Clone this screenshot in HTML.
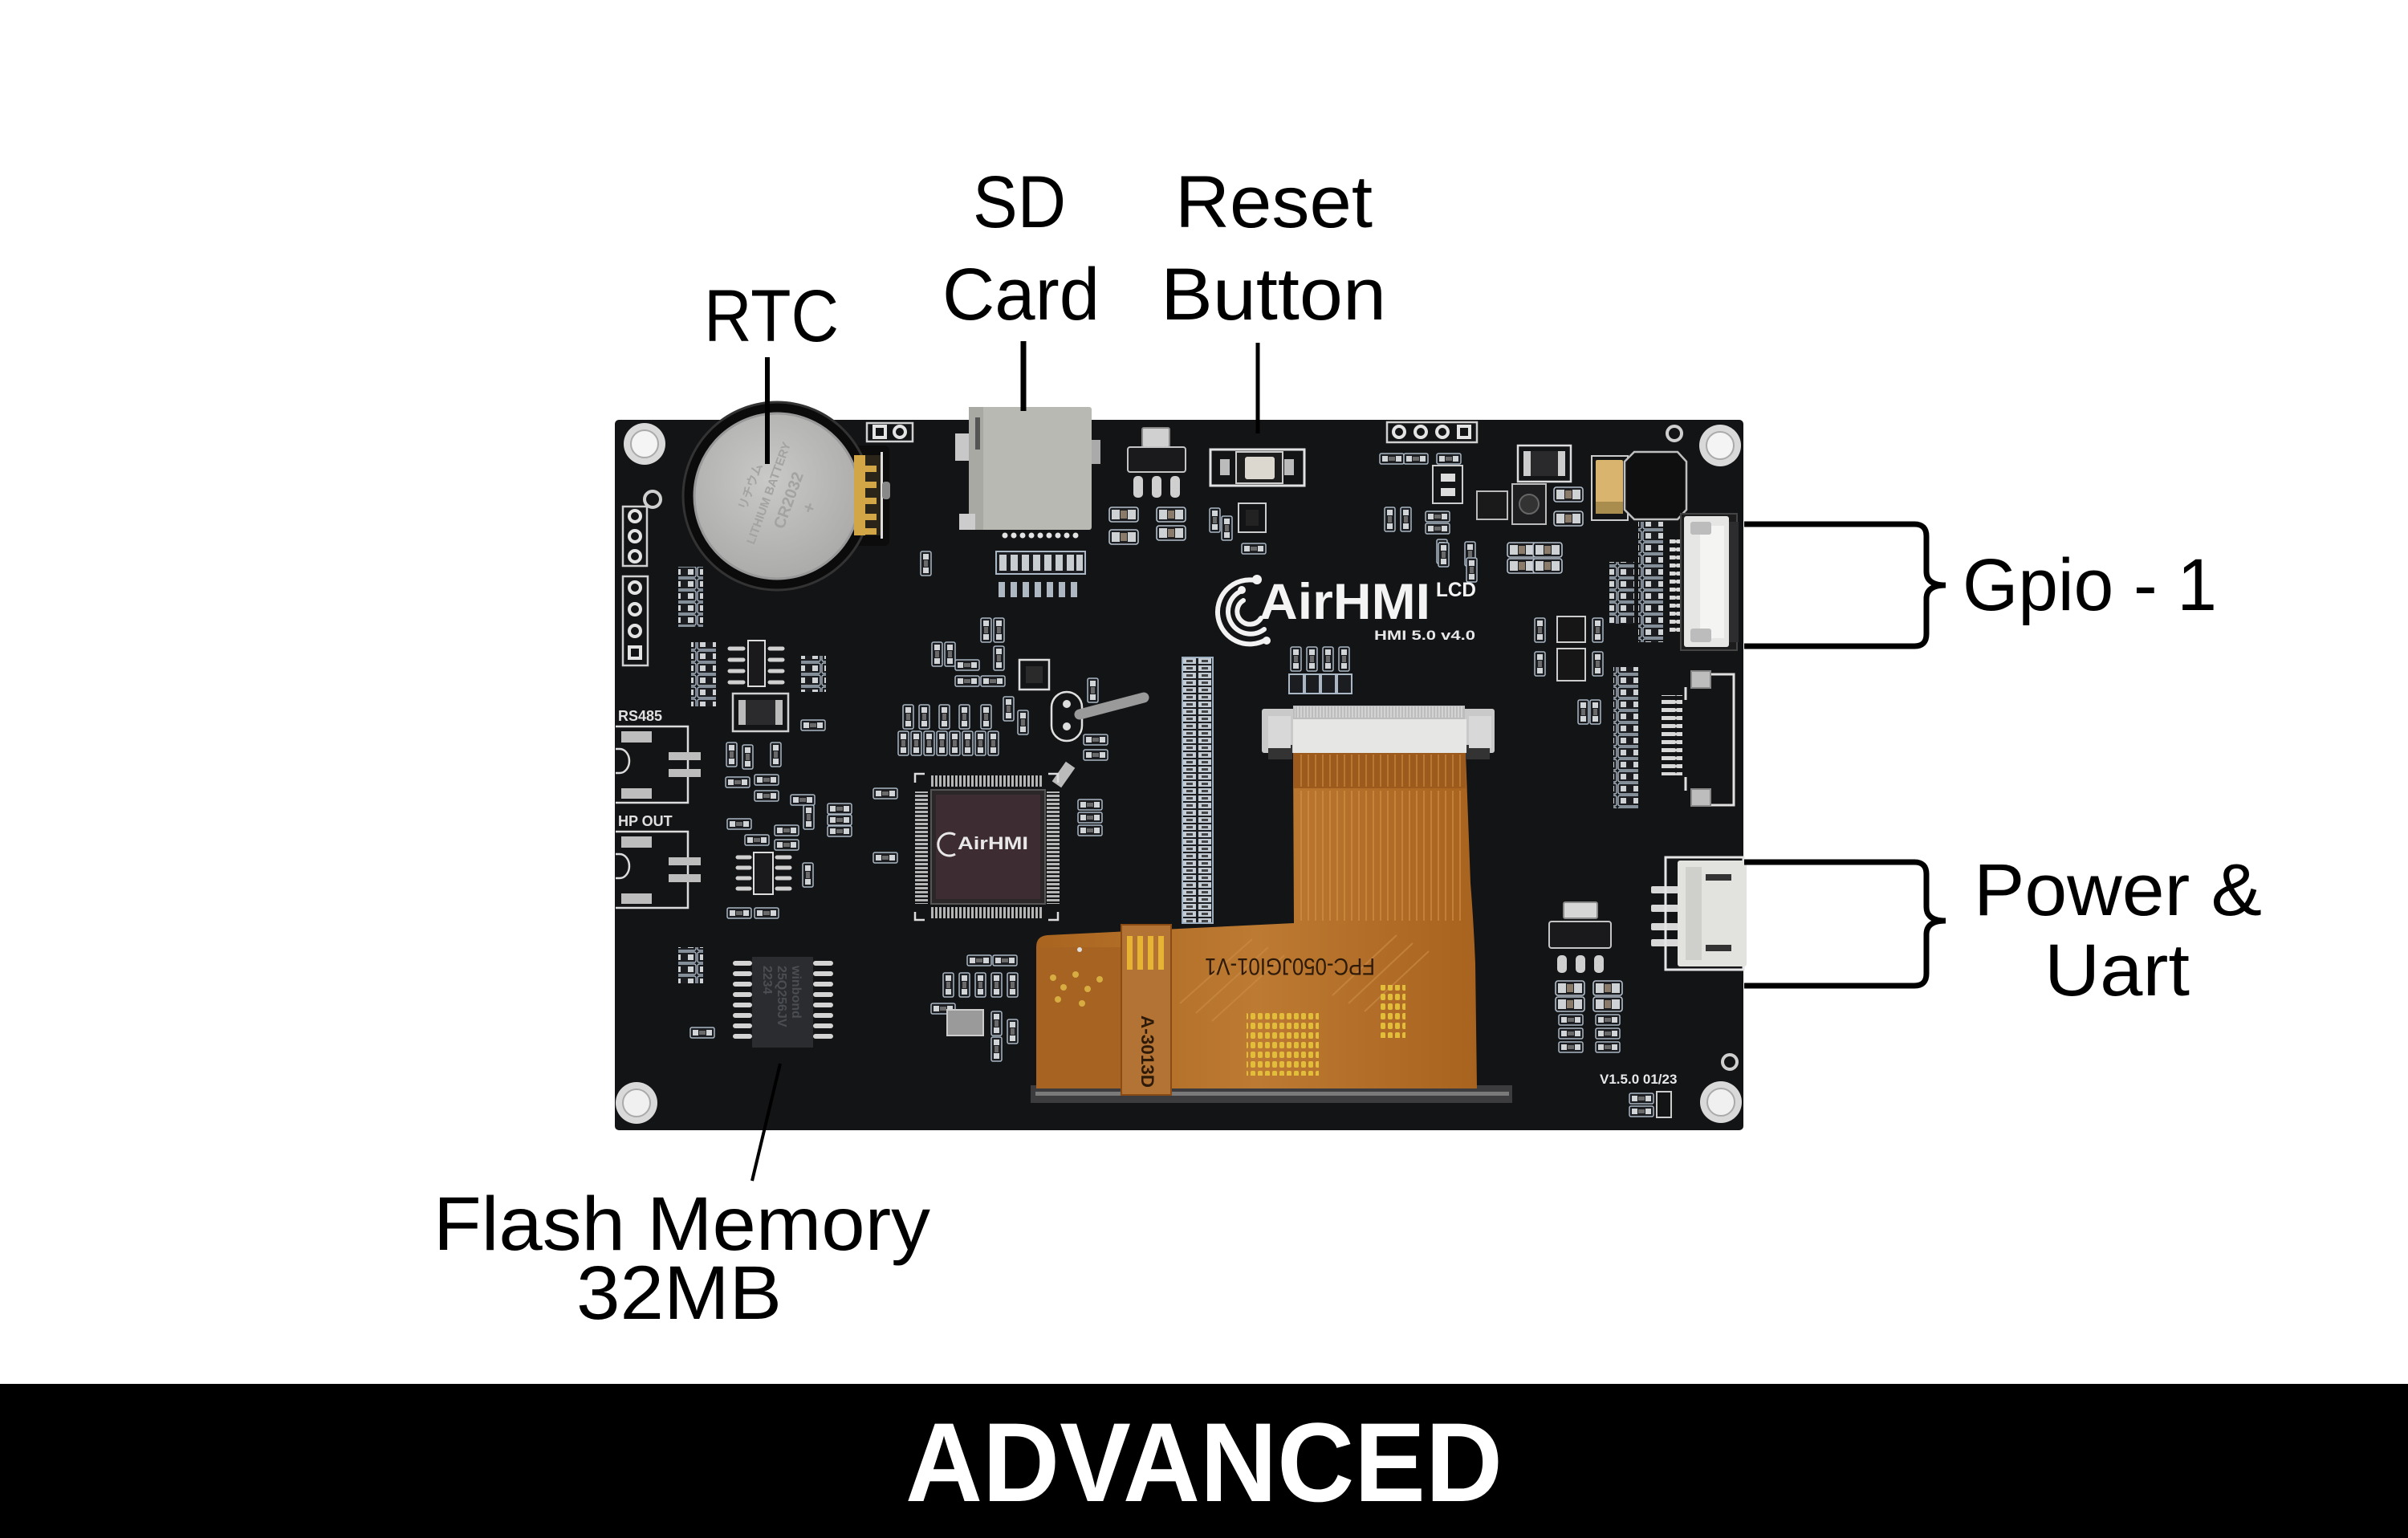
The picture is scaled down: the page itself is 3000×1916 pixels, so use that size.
<!DOCTYPE html>
<html><head><meta charset="utf-8"><style>
html,body{margin:0;padding:0;background:#fff;}
svg{display:block;}
</style></head><body>
<svg width="3000" height="1916" viewBox="0 0 3000 1916" xmlns="http://www.w3.org/2000/svg" font-family="'Liberation Sans', Arial, sans-serif">
<defs>
 <g id="rr"><rect x="0" y="0" width="30" height="13" rx="2" fill="#1c1d20" stroke="#aab7c4" stroke-width="1.5"/><rect x="3" y="3" width="7" height="7" fill="#d2d5d8"/><rect x="20" y="3" width="7" height="7" fill="#d2d5d8"/><rect x="11" y="4" width="8" height="5" fill="#6a6a6a"/></g>
 <g id="rv"><rect width="13" height="30" rx="2" fill="#1c1d20" stroke="#aab7c4" stroke-width="1.5"/><rect x="3" y="3" width="7" height="7" fill="#d2d5d8"/><rect x="3" y="20" width="7" height="7" fill="#d2d5d8"/><rect x="4" y="11" width="5" height="8" fill="#6a6a6a"/></g>
 <g id="cp"><rect width="36" height="18" rx="3" fill="#1c1d20" stroke="#b4c0cc" stroke-width="1.6"/><rect x="3" y="3" width="10" height="12" fill="#cfd2d4"/><rect x="23" y="3" width="10" height="12" fill="#cfd2d4"/><rect x="14" y="4" width="8" height="10" fill="#8a7a6a"/></g>
 <pattern id="rah" width="31" height="15" patternUnits="userSpaceOnUse"><rect x="1" y="1" width="29" height="13" rx="2" fill="#1c1d20" stroke="#aab7c4" stroke-width="1.4"/><rect x="4" y="4" width="7" height="7" fill="#d0d3d6"/><rect x="20" y="4" width="7" height="7" fill="#d0d3d6"/></pattern>
 <pattern id="pinv" width="5" height="20" patternUnits="userSpaceOnUse"><rect width="3" height="20" fill="#b5b5b5"/></pattern>
 <pattern id="pinh" width="20" height="5" patternUnits="userSpaceOnUse"><rect width="20" height="3" fill="#b5b5b5"/></pattern>
 <pattern id="strip" x="1473" y="819" width="38" height="9" patternUnits="userSpaceOnUse"><rect x="1" y="1" width="16" height="7" fill="#c3ccd4"/><rect x="20" y="1" width="16" height="7" fill="#c3ccd4"/><rect x="5" y="3" width="8" height="3" fill="#444"/><rect x="24" y="3" width="8" height="3" fill="#444"/></pattern>
 <pattern id="trace" width="9" height="40" patternUnits="userSpaceOnUse"><rect width="2" height="40" fill="#d69448"/></pattern>
 <pattern id="fine" width="4" height="10" patternUnits="userSpaceOnUse"><rect width="2" height="10" fill="#d8d8d8"/></pattern>
 <pattern id="gold" width="9" height="12" patternUnits="userSpaceOnUse"><rect x="1" y="2" width="6" height="8" rx="2" fill="#e2bd3a"/></pattern>
 <pattern id="pinl" width="24" height="10" patternUnits="userSpaceOnUse"><rect x="0" y="2" width="24" height="5" rx="2" fill="#d8d8d8"/></pattern>
 <radialGradient id="coin" cx="0.45" cy="0.4" r="0.65"><stop offset="0" stop-color="#c9c9c7"/><stop offset="1" stop-color="#a9a9a7"/></radialGradient>
 <linearGradient id="flex" x1="0" y1="0" x2="1" y2="0"><stop offset="0" stop-color="#a9651f"/><stop offset="0.5" stop-color="#bd7a32"/><stop offset="1" stop-color="#a8631f"/></linearGradient>
</defs>

<rect width="3000" height="1916" fill="#fff"/>

<!-- board -->
<rect x="766" y="523" width="1406" height="885" rx="5" fill="#131416"/>

<!-- mounting holes -->
<g>
 <circle cx="803" cy="553" r="26" fill="#d9d9d9"/><circle cx="803" cy="553" r="17" fill="#f4f4f4" stroke="#aaa" stroke-width="2"/>
 <circle cx="2143" cy="555" r="26" fill="#d9d9d9"/><circle cx="2143" cy="555" r="17" fill="#f4f4f4" stroke="#aaa" stroke-width="2"/>
 <circle cx="793" cy="1374" r="26" fill="#d9d9d9"/><circle cx="793" cy="1374" r="17" fill="#f0f0f0" stroke="#aaa" stroke-width="2"/>
 <circle cx="2144" cy="1373" r="26" fill="#d9d9d9"/><circle cx="2144" cy="1373" r="17" fill="#f0f0f0" stroke="#aaa" stroke-width="2"/>
 <circle cx="813" cy="622" r="10" fill="none" stroke="#cfcfcf" stroke-width="4"/>
 <circle cx="2086" cy="540" r="9" fill="none" stroke="#cfcfcf" stroke-width="4"/>
 <circle cx="2155" cy="1323" r="9" fill="none" stroke="#cfcfcf" stroke-width="4"/>
</g>

<!-- headers -->
<g fill="none" stroke="#d0d0d0" stroke-width="2.5">
 <rect x="776" y="631" width="30" height="74"/>
 <rect x="776" y="718" width="31" height="111"/>
 <rect x="1728" y="526" width="112" height="25"/>
 <rect x="1080" y="527" width="57" height="23"/>
</g>
<g fill="#131416" stroke="#e4e4e4" stroke-width="4">
 <circle cx="791" cy="643" r="7"/><circle cx="791" cy="668" r="7"/><circle cx="791" cy="693" r="7"/>
 <circle cx="791" cy="732" r="7"/><circle cx="791" cy="759" r="7"/><circle cx="791" cy="786" r="7"/><rect x="784" y="806" width="14" height="14"/>
 <circle cx="1743" cy="538" r="7"/><circle cx="1770" cy="538" r="7"/><circle cx="1797" cy="538" r="7"/><rect x="1817" y="531" width="14" height="14"/>
 <rect x="1089" y="531" width="14" height="14"/><circle cx="1121" cy="538" r="7"/>
</g>

<!-- coin cell -->
<rect x="1040" y="555" width="68" height="125" rx="6" fill="#0c0c0d"/>
<circle cx="968" cy="618" r="117" fill="#0b0b0c" stroke="#333" stroke-width="3"/>
<circle cx="968" cy="618" r="103" fill="url(#coin)" stroke="#999" stroke-width="3"/>
<g transform="rotate(-70 968 618)" fill="#a3a3a1" font-size="15" font-weight="bold" text-anchor="middle">
 <text x="968" y="588">リチウム</text>
 <text x="968" y="612">LITHIUM BATTERY</text>
 <text x="968" y="640" font-size="20">CR2032</text>
 <text x="968" y="668" font-size="22">+</text>
</g>
<rect x="1064" y="567" width="34" height="100" fill="#2a2419"/>
<g fill="#d2a647"><rect x="1064" y="567" width="14" height="100"/><rect x="1078" y="580" width="14" height="8"/><rect x="1078" y="600" width="14" height="8"/><rect x="1078" y="620" width="14" height="8"/><rect x="1078" y="640" width="14" height="8"/><rect x="1078" y="658" width="14" height="8"/></g>
<rect x="1097" y="563" width="3" height="108" fill="#ddd"/>
<rect x="1099" y="600" width="10" height="22" rx="4" fill="#888"/>

<!-- SD card slot -->
<rect x="1190" y="540" width="22" height="34" fill="#c8c8c8"/>
<rect x="1355" y="548" width="16" height="30" fill="#aaa"/>
<rect x="1207" y="507" width="153" height="153" rx="3" fill="#b9b9b4"/>
<rect x="1207" y="507" width="18" height="153" fill="#a9a9a4"/>
<rect x="1215" y="520" width="6" height="40" fill="#555"/>
<rect x="1195" y="640" width="20" height="20" fill="#ccc"/>
<g fill="#e3e3e3"><circle cx="1252" cy="667" r="3.5"/><circle cx="1263" cy="667" r="3.5"/><circle cx="1274" cy="667" r="3.5"/><circle cx="1285" cy="667" r="3.5"/><circle cx="1296" cy="667" r="3.5"/><circle cx="1307" cy="667" r="3.5"/><circle cx="1318" cy="667" r="3.5"/><circle cx="1329" cy="667" r="3.5"/><circle cx="1340" cy="667" r="3.5"/></g>
<rect x="1241" y="687" width="111" height="28" fill="#1c1d20" stroke="#aab7c4" stroke-width="2"/>
<g fill="#c8cdd2"><rect x="1245" y="691" width="9" height="20"/><rect x="1259" y="691" width="9" height="20"/><rect x="1273" y="691" width="9" height="20"/><rect x="1287" y="691" width="9" height="20"/><rect x="1301" y="691" width="9" height="20"/><rect x="1315" y="691" width="9" height="20"/><rect x="1329" y="691" width="9" height="20"/><rect x="1341" y="691" width="8" height="20"/></g>
<g fill="#aeb8c2"><rect x="1244" y="725" width="8" height="19"/><rect x="1259" y="725" width="8" height="19"/><rect x="1274" y="725" width="8" height="19"/><rect x="1289" y="725" width="8" height="19"/><rect x="1304" y="725" width="8" height="19"/><rect x="1319" y="725" width="8" height="19"/><rect x="1334" y="725" width="8" height="19"/></g>
<use href="#rv" x="1147" y="687"/>

<!-- top center parts -->
<rect x="1423" y="533" width="34" height="24" rx="2" fill="#d0d0d0" stroke="#888" stroke-width="2"/>
<rect x="1405" y="557" width="72" height="31" rx="3" fill="#1a1a1c" stroke="#c4c4c4" stroke-width="2"/>
<g fill="#cfcfcf"><rect x="1412" y="593" width="12" height="27" rx="5"/><rect x="1435" y="593" width="12" height="27" rx="5"/><rect x="1458" y="593" width="12" height="27" rx="5"/></g>
<use href="#cp" x="1382" y="632"/><use href="#cp" x="1382" y="660"/><use href="#cp" x="1441" y="632"/><use href="#cp" x="1441" y="655"/>
<use href="#rv" x="1507" y="633"/><use href="#rv" x="1522" y="643"/>
<rect x="1543" y="627" width="34" height="36" fill="none" stroke="#ccc" stroke-width="2"/><rect x="1552" y="635" width="16" height="20" fill="#222"/>
<use href="#rr" x="1547" y="677"/>

<!-- reset button -->
<rect x="1508" y="560" width="117" height="45" fill="none" stroke="#e2e2e2" stroke-width="3"/>
<rect x="1520" y="572" width="12" height="20" fill="#bbb"/><rect x="1600" y="572" width="12" height="20" fill="#bbb"/>
<rect x="1540" y="563" width="58" height="39" fill="#1d1d1d" stroke="#ccc" stroke-width="2"/>
<rect x="1551" y="569" width="37" height="28" rx="3" fill="#ddd8cf"/>

<!-- top right parts -->
<use href="#rr" x="1719" y="565"/><use href="#rr" x="1749" y="565"/><use href="#rr" x="1790" y="565"/>
<rect x="1785" y="580" width="37" height="47" fill="none" stroke="#ccc" stroke-width="2"/><rect x="1795" y="590" width="18" height="10" fill="#ddd"/><rect x="1795" y="608" width="18" height="10" fill="#ddd"/>
<use href="#rv" x="1725" y="632"/><use href="#rv" x="1745" y="632"/>
<use href="#rr" x="1776" y="637"/><use href="#rr" x="1776" y="652"/>
<use href="#rv" x="1790" y="672"/><use href="#rv" x="1825" y="675"/>
<rect x="1840" y="612" width="38" height="35" fill="#1a1a1a" stroke="#bbb" stroke-width="2"/>
<rect x="1891" y="555" width="66" height="45" fill="none" stroke="#ddd" stroke-width="2.5"/>
<rect x="1898" y="562" width="52" height="31" fill="#2a2a2c"/><rect x="1898" y="562" width="9" height="31" fill="#ccc"/><rect x="1941" y="562" width="9" height="31" fill="#ccc"/>
<rect x="1884" y="603" width="42" height="50" fill="#1e1e20" stroke="#bbb" stroke-width="2"/><circle cx="1905" cy="628" r="12" fill="#333" stroke="#666" stroke-width="2"/>
<use href="#cp" x="1936" y="607"/><use href="#cp" x="1936" y="637"/>
<rect x="1983" y="568" width="45" height="80" fill="none" stroke="#ccc" stroke-width="2"/>
<rect x="1988" y="573" width="34" height="67" rx="2" fill="#d8b46e"/><rect x="1988" y="625" width="34" height="15" fill="#a98d4e"/>
<path d="M2036 563 H2090 L2101 575 V635 L2090 647 H2036 L2024 635 V575 Z" fill="#0f0f10" stroke="#bfbfbf" stroke-width="2.5"/>
<use href="#cp" x="1878" y="676"/><use href="#cp" x="1910" y="676"/><use href="#cp" x="1878" y="696"/><use href="#cp" x="1910" y="696"/>
<use href="#rv" x="1792" y="676"/><use href="#rv" x="1827" y="695"/>

<!-- right resistor arrays -->
<rect x="2005" y="700" width="31" height="77" fill="url(#rah)"/>
<rect x="2041" y="650" width="31" height="150" fill="url(#rah)"/>
<rect x="2010" y="831" width="31" height="176" fill="url(#rah)"/>
<rect x="1940" y="768" width="35" height="32" fill="#161616" stroke="#ccc" stroke-width="2"/>
<rect x="1940" y="808" width="35" height="40" fill="#161616" stroke="#ccc" stroke-width="2"/>
<use href="#rv" x="1912" y="770"/><use href="#rv" x="1912" y="812"/><use href="#rv" x="1984" y="770"/><use href="#rv" x="1984" y="812"/>
<use href="#rv" x="1966" y="872"/><use href="#rv" x="1981" y="872"/>

<!-- GPIO 1 connector -->
<rect x="2080" y="670" width="22" height="120" fill="url(#pinl)"/>
<rect x="2094" y="640" width="70" height="170" fill="#1c1c1c" stroke="#444" stroke-width="2"/>
<rect x="2098" y="643" width="56" height="163" rx="3" fill="#e6e6e4"/>
<rect x="2118" y="655" width="30" height="140" fill="#f4f4f2"/>
<rect x="2106" y="650" width="26" height="16" rx="3" fill="#bcbcbc"/>
<rect x="2106" y="783" width="26" height="17" rx="3" fill="#bcbcbc"/>
<rect x="2154" y="650" width="12" height="150" fill="#2d2d30"/>

<!-- GPIO2 -->
<path d="M2112 840 H2160 V1003 H2112 M2100 856 V872 M2100 968 V985" fill="none" stroke="#e0e0e0" stroke-width="3"/>
<rect x="2070" y="866" width="26" height="100" fill="url(#pinl)"/>
<rect x="2107" y="836" width="24" height="21" fill="#bdbdbd" stroke="#888" stroke-width="2"/>
<rect x="2107" y="983" width="24" height="21" fill="#bdbdbd" stroke="#888" stroke-width="2"/>

<!-- power connector -->
<g fill="#d8d8d8"><rect x="2057" y="1104" width="34" height="9" rx="2"/><rect x="2057" y="1127" width="34" height="9" rx="2"/><rect x="2057" y="1150" width="34" height="9" rx="2"/><rect x="2057" y="1170" width="34" height="9" rx="2"/></g>
<rect x="2075" y="1068" width="97" height="140" fill="none" stroke="#e5e5e5" stroke-width="3"/>
<rect x="2090" y="1072" width="86" height="132" rx="3" fill="#e2e2de"/>
<rect x="2100" y="1080" width="20" height="116" fill="#cfcfcb"/>
<rect x="2125" y="1089" width="32" height="8" fill="#333"/><rect x="2125" y="1177" width="32" height="8" fill="#333"/>

<!-- regulator and caps bottom right -->
<rect x="1948" y="1124" width="42" height="20" rx="2" fill="#d6d6d6" stroke="#888" stroke-width="2"/>
<rect x="1930" y="1148" width="77" height="33" rx="3" fill="#1a1a1c" stroke="#c4c4c4" stroke-width="2"/>
<g fill="#cfcfcf"><rect x="1940" y="1190" width="12" height="22" rx="5"/><rect x="1963" y="1190" width="12" height="22" rx="5"/><rect x="1986" y="1190" width="12" height="22" rx="5"/></g>
<use href="#cp" x="1938" y="1222"/><use href="#cp" x="1938" y="1242"/><use href="#rr" x="1942" y="1264"/><use href="#rr" x="1942" y="1281"/><use href="#rr" x="1942" y="1298"/>
<use href="#cp" x="1985" y="1222"/><use href="#cp" x="1985" y="1242"/><use href="#rr" x="1988" y="1264"/><use href="#rr" x="1988" y="1281"/><use href="#rr" x="1988" y="1298"/>
<text x="1993" y="1350" font-size="17" fill="#e8e8e8" font-weight="bold">V1.5.0 01/23</text>
<use href="#rr" x="2030" y="1362"/><use href="#rr" x="2030" y="1378"/>
<rect x="2064" y="1360" width="18" height="32" fill="none" stroke="#ccc" stroke-width="2"/>

<!-- left side -->
<rect x="845" y="706" width="31" height="75" fill="url(#rah)"/>
<rect x="861" y="800" width="31" height="80" fill="url(#rah)"/>
<rect x="998" y="817" width="31" height="45" fill="url(#rah)"/>
<use href="#rr" x="998" y="897"/>
<rect x="932" y="798" width="21" height="57" fill="#1a1a1c" stroke="#ddd" stroke-width="2"/>
<g stroke="#d0d0d0" stroke-width="5" stroke-linecap="round"><path d="M909 808 H926 M909 822 H926 M909 836 H926 M909 850 H926 M959 808 H975 M959 822 H975 M959 836 H975 M959 850 H975"/>
<path d="M919 1068 H934 M919 1081 H934 M919 1094 H934 M919 1107 H934 M968 1068 H984 M968 1081 H984 M968 1094 H984 M968 1107 H984"/></g>
<rect x="939" y="1062" width="24" height="52" fill="#1a1a1c" stroke="#ddd" stroke-width="2"/>
<rect x="913" y="864" width="69" height="47" fill="none" stroke="#d0d0d0" stroke-width="2.5"/>
<rect x="920" y="872" width="55" height="31" fill="#2b2b2d"/><rect x="920" y="872" width="9" height="31" fill="#bbb"/><rect x="966" y="872" width="9" height="31" fill="#bbb"/>
<use href="#rv" x="905" y="925"/><use href="#rv" x="925" y="928"/><use href="#rv" x="960" y="925"/>
<use href="#rr" x="904" y="968"/><use href="#rr" x="940" y="965"/><use href="#rr" x="940" y="985"/><use href="#rr" x="985" y="990"/>
<use href="#rr" x="906" y="1020"/><use href="#rr" x="928" y="1040"/><use href="#rr" x="965" y="1028"/><use href="#rr" x="965" y="1046"/>
<use href="#rv" x="1001" y="1003"/><use href="#rv" x="1000" y="1075"/>
<use href="#rr" x="906" y="1131"/><use href="#rr" x="940" y="1131"/>
<rect x="845" y="1180" width="31" height="45" fill="url(#rah)"/>
<use href="#rr" x="860" y="1280"/>

<!-- RS485 / HP OUT -->
<g fill="none" stroke="#dcdcdc" stroke-width="2.5">
 <path d="M767 905 H857 V1000 H767"/><path d="M767 933 H772 A12 15 0 0 1 772 963 H767"/>
 <path d="M767 1036 H857 V1131 H767"/><path d="M767 1064 H772 A12 15 0 0 1 772 1094 H767"/>
</g>
<g fill="#bdbdbd"><rect x="774" y="911" width="38" height="14"/><rect x="833" y="937" width="40" height="10"/><rect x="833" y="958" width="40" height="10"/><rect x="774" y="982" width="38" height="13"/>
<rect x="774" y="1042" width="38" height="14"/><rect x="833" y="1068" width="40" height="10"/><rect x="833" y="1089" width="40" height="10"/><rect x="774" y="1113" width="38" height="13"/></g>
<text x="770" y="898" font-size="18" fill="#e0e0e0" font-weight="bold">RS485</text>
<text x="770" y="1029" font-size="18" fill="#e0e0e0" font-weight="bold">HP  OUT</text>

<!-- flash chip -->
<g stroke="#d4d4d4" stroke-width="6" stroke-linecap="round">
 <path d="M916 1200 H934 M916 1213 H934 M916 1226 H934 M916 1239 H934 M916 1252 H934 M916 1265 H934 M916 1278 H934 M916 1291 H934"/>
 <path d="M1016 1200 H1035 M1016 1213 H1035 M1016 1226 H1035 M1016 1239 H1035 M1016 1252 H1035 M1016 1265 H1035 M1016 1278 H1035 M1016 1291 H1035"/>
</g>
<rect x="937" y="1192" width="76" height="113" fill="#2a2c2f"/>
<g transform="rotate(90 975 1248)" fill="#4a4d52" font-size="16" font-weight="bold"><text x="930" y="1236">winbond</text><text x="930" y="1254">25Q256JV</text><text x="930" y="1272">2234</text></g>

<!-- middle parts -->
<use href="#rv" x="1119" y="911"/><use href="#rv" x="1135" y="911"/><use href="#rv" x="1151" y="911"/><use href="#rv" x="1167" y="911"/><use href="#rv" x="1183" y="911"/><use href="#rv" x="1199" y="911"/><use href="#rv" x="1215" y="911"/><use href="#rv" x="1231" y="911"/>
<use href="#rv" x="1125" y="878"/><use href="#rv" x="1145" y="878"/><use href="#rv" x="1170" y="878"/><use href="#rv" x="1195" y="878"/><use href="#rv" x="1222" y="878"/>
<use href="#rv" x="1161" y="800"/><use href="#rv" x="1177" y="800"/><use href="#rr" x="1190" y="822"/><use href="#rr" x="1190" y="842"/><use href="#rr" x="1222" y="842"/>
<use href="#rv" x="1222" y="770"/><use href="#rv" x="1238" y="770"/><use href="#rv" x="1238" y="805"/>
<use href="#rv" x="1250" y="868"/><use href="#rv" x="1268" y="885"/>
<rect x="1270" y="822" width="37" height="37" fill="none" stroke="#ddd" stroke-width="2.5"/><rect x="1278" y="830" width="21" height="21" fill="#2a2a2a"/>
<rect x="1310" y="862" width="38" height="61" rx="19" fill="none" stroke="#e0e0e0" stroke-width="2.5"/>
<circle cx="1329" cy="877" r="5" fill="#ddd"/><circle cx="1329" cy="905" r="5" fill="#ddd"/>
<path d="M1345 890 L1425 869" stroke="#9a9a9a" stroke-width="13" stroke-linecap="round"/>
<use href="#rv" x="1355" y="845"/><use href="#rr" x="1350" y="915"/><use href="#rr" x="1350" y="934"/>
<rect x="1318" y="950" width="14" height="30" fill="#bbb" transform="rotate(35 1325 965)"/>
<use href="#rr" x="1343" y="996"/><use href="#rr" x="1343" y="1012"/><use href="#rr" x="1343" y="1028"/>
<use href="#rr" x="1088" y="982"/><use href="#rr" x="1088" y="1062"/>
<use href="#rr" x="1031" y="1001"/><use href="#rr" x="1031" y="1015"/><use href="#rr" x="1031" y="1029"/>
<use href="#rr" x="1205" y="1190"/><use href="#rr" x="1237" y="1190"/>
<use href="#rv" x="1175" y="1212"/><use href="#rv" x="1195" y="1212"/><use href="#rv" x="1215" y="1212"/><use href="#rv" x="1235" y="1212"/><use href="#rv" x="1255" y="1212"/>
<use href="#rr" x="1160" y="1250"/><rect x="1180" y="1258" width="45" height="32" fill="#9a9a9a" stroke="#ccc" stroke-width="2"/>
<use href="#rv" x="1235" y="1260"/><use href="#rv" x="1235" y="1292"/><use href="#rv" x="1255" y="1270"/>

<!-- main chip -->
<rect x="1160" y="966" width="140" height="14" fill="url(#pinv)"/>
<rect x="1160" y="1130" width="140" height="14" fill="url(#pinv)"/>
<rect x="1140" y="986" width="16" height="140" fill="url(#pinh)"/>
<rect x="1304" y="986" width="16" height="140" fill="url(#pinh)"/>
<path d="M1140 975 V964 H1152 M1306 964 H1318 V975 M1140 1136 V1146 H1152 M1306 1146 H1318 V1136" fill="none" stroke="#ddd" stroke-width="2.5"/>
<rect x="1160" y="984" width="142" height="142" fill="#2b2628" stroke="#555" stroke-width="2"/>
<rect x="1166" y="990" width="130" height="130" fill="#3d2c31"/>
<path d="M1190 1040 A14 14 0 1 0 1190 1064" fill="none" stroke="#e8e8e8" stroke-width="3"/>
<text x="1193" y="1058" font-size="22" font-weight="bold" fill="#e8e8e8" textLength="88" lengthAdjust="spacingAndGlyphs">AirHMI</text>

<!-- pad strip -->
<rect x="1473" y="819" width="38" height="331" fill="#1c1d20" stroke="#9fb0c0" stroke-width="2"/>
<rect x="1474" y="820" width="36" height="329" fill="url(#strip)"/>

<!-- logo -->
<g fill="none" stroke="#f2f2f2" stroke-width="6" stroke-linecap="round">
 <path d="M1564 723 A40 40 0 1 0 1577 797"/>
 <path d="M1547 736 A28 28 0 1 0 1575 784"/>
 <path d="M1549 748 A16 16 0 1 0 1571 770"/>
</g>
<g fill="#f2f2f2"><circle cx="1566" cy="722" r="6"/><circle cx="1547" cy="735" r="5"/><circle cx="1578" cy="798" r="5"/></g>
<text x="1569" y="771" font-size="63" font-weight="bold" fill="#f4f4f4" textLength="213" lengthAdjust="spacingAndGlyphs">AirHMI</text>
<text x="1789" y="743" font-size="25" font-weight="bold" fill="#f4f4f4" textLength="50" lengthAdjust="spacingAndGlyphs">LCD</text>
<text x="1712" y="797" font-size="17" font-weight="bold" fill="#e8e8e8" textLength="126" lengthAdjust="spacingAndGlyphs">HMI 5.0 v4.0</text>
<use href="#rv" x="1608" y="806"/><use href="#rv" x="1628" y="806"/><use href="#rv" x="1648" y="806"/><use href="#rv" x="1668" y="806"/>
<rect x="1606" y="840" width="18" height="24" fill="#1c1d20" stroke="#aab7c4" stroke-width="2"/><rect x="1626" y="840" width="18" height="24" fill="#1c1d20" stroke="#aab7c4" stroke-width="2"/><rect x="1646" y="840" width="18" height="24" fill="#1c1d20" stroke="#aab7c4" stroke-width="2"/><rect x="1666" y="840" width="18" height="24" fill="#1c1d20" stroke="#aab7c4" stroke-width="2"/>

<!-- LCD edge strip -->
<rect x="1284" y="1352" width="600" height="22" fill="#3c3c3e"/>
<rect x="1290" y="1360" width="590" height="5" fill="#7a7a7a"/>

<!-- flex cable -->
<path d="M1611 938 H1826 L1832 1100 Q1836 1150 1838 1200 L1840 1356 H1291 V1180 Q1291 1166 1305 1165 L1612 1150 Z" fill="url(#flex)"/>
<rect x="1616" y="985" width="205" height="162" fill="url(#trace)" opacity="0.55"/>
<rect x="1611" y="938" width="215" height="44" fill="#9c5a1c"/>
<rect x="1613" y="940" width="211" height="40" fill="url(#trace)" opacity="0.5"/>
<rect x="1291" y="1180" width="106" height="176" fill="#a76322"/>
<g stroke="#c98a45" stroke-width="2" opacity="0.7">
 <path d="M1470 1250 L1560 1170 M1490 1262 L1580 1180 M1510 1272 L1600 1190 M1660 1240 L1740 1165 M1680 1250 L1760 1175 M1700 1260 L1780 1185"/>
</g>
<rect x="1397" y="1152" width="62" height="212" fill="#b37334" stroke="#8a4c14" stroke-width="2"/>
<g fill="#e6b432"><rect x="1404" y="1166" width="7" height="42"/><rect x="1417" y="1166" width="7" height="42"/><rect x="1430" y="1166" width="7" height="42"/><rect x="1443" y="1166" width="7" height="42"/></g>
<rect x="1553" y="1260" width="90" height="80" fill="url(#gold)"/>
<rect x="1718" y="1227" width="33" height="66" fill="url(#gold)"/>
<g fill="#e3c04a" opacity="0.8"><circle cx="1312" cy="1218" r="4"/><circle cx="1325" cy="1230" r="4"/><circle cx="1340" cy="1214" r="4"/><circle cx="1355" cy="1232" r="4"/><circle cx="1370" cy="1220" r="4"/><circle cx="1318" cy="1245" r="4"/><circle cx="1348" cy="1250" r="4"/></g>
<circle cx="1345" cy="1183" r="3" fill="#ddd"/>
<text transform="rotate(180 1607 1206)" x="1501" y="1218" font-size="30" fill="#2e1a08" textLength="212" lengthAdjust="spacingAndGlyphs">FPC-050JGI01-V1</text>
<text transform="rotate(90 1430 1310)" x="1385" y="1318" font-size="22" fill="#2e1a08" font-weight="bold" textLength="90" lengthAdjust="spacingAndGlyphs">A-3013D</text>

<!-- FPC connector -->
<rect x="1572" y="883" width="290" height="55" rx="3" fill="#c9c9c9"/>
<rect x="1580" y="928" width="30" height="18" fill="#333"/><rect x="1826" y="928" width="30" height="18" fill="#333"/>
<rect x="1611" y="879" width="214" height="17" fill="#bdbdbd"/>
<rect x="1613" y="880" width="210" height="14" fill="url(#fine)" opacity="0.8"/>
<rect x="1611" y="896" width="216" height="42" fill="#e6e6e4"/>
<rect x="1580" y="892" width="28" height="40" fill="#d8d8d8"/><rect x="1830" y="892" width="28" height="40" fill="#d8d8d8"/>

<!-- connector lines -->
<g stroke="#000" fill="none">
 <path d="M956 445 V578" stroke-width="6"/>
 <path d="M1275 425 V512" stroke-width="7"/>
 <path d="M1567 427 V540" stroke-width="5"/>
 <path d="M972 1325 L937 1471" stroke-width="4"/>
 <path d="M2173 653 H2385 Q2400 653 2400 668 V712 Q2400 729 2424 729 Q2400 729 2400 746 V790 Q2400 805 2385 805 H2173" stroke-width="7"/>
 <path d="M2173 1074 H2385 Q2400 1074 2400 1089 V1130 Q2400 1147 2424 1147 Q2400 1147 2400 1164 V1213 Q2400 1228 2385 1228 H2173" stroke-width="7"/>
</g>

<!-- labels -->
<g fill="#000" font-size="92">
 <text x="877" y="425" textLength="168" lengthAdjust="spacingAndGlyphs">RTC</text>
 <text x="1212" y="283" textLength="116" lengthAdjust="spacingAndGlyphs">SD</text>
 <text x="1174" y="398" textLength="196" lengthAdjust="spacingAndGlyphs">Card</text>
 <text x="1464" y="283" textLength="246" lengthAdjust="spacingAndGlyphs">Reset</text>
 <text x="1446" y="398" textLength="281" lengthAdjust="spacingAndGlyphs">Button</text>
 <text x="2445" y="760" textLength="317" lengthAdjust="spacingAndGlyphs">Gpio - 1</text>
 <text x="2459" y="1140" textLength="359" lengthAdjust="spacingAndGlyphs">Power &amp;</text>
 <text x="2547" y="1240" textLength="181" lengthAdjust="spacingAndGlyphs">Uart</text>
 <text x="540" y="1557" font-size="95" textLength="619" lengthAdjust="spacingAndGlyphs">Flash Memory</text>
 <text x="718" y="1643" font-size="95" textLength="256" lengthAdjust="spacingAndGlyphs">32MB</text>
</g>

<!-- bottom bar -->
<rect x="0" y="1724" width="3000" height="192" fill="#000"/>
<text x="1128" y="1870" font-size="140" font-weight="bold" fill="#fff" textLength="744" lengthAdjust="spacingAndGlyphs">ADVANCED</text>
</svg>
</body></html>
